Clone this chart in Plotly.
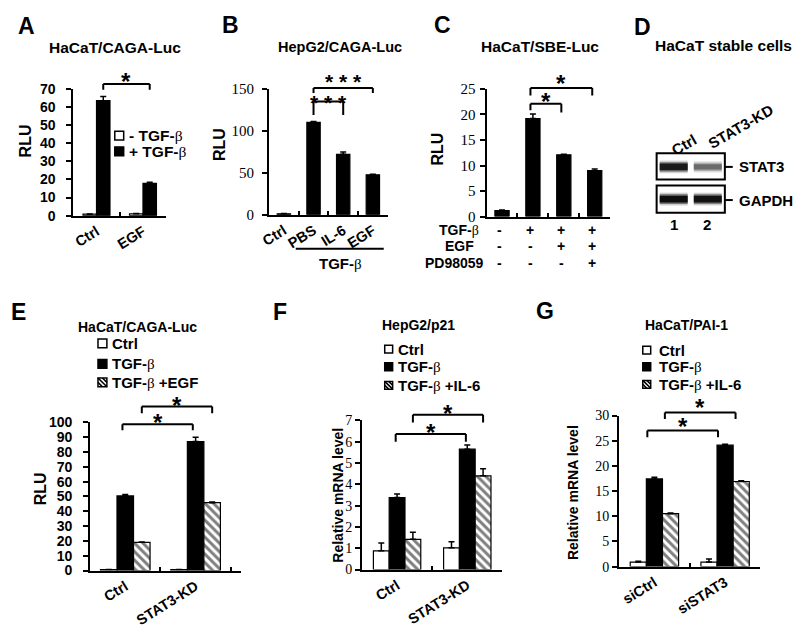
import plotly.graph_objects as go

W, H = 800, 637

# ---------------- data ----------------
a_categories = ["Ctrl", "EGF"]
a_legend = ["- TGF-β", "+ TGF-β"]
a_without_tgf = [0.8, 1.0]
a_with_tgf = [63.5, 17.8]
a_without_tgf_err = [0.1, 0.2]
a_with_tgf_err = [2.3, 0.6]

b_categories = ["Ctrl", "PBS", "IL-6", "EGF"]
b_values = [1.0, 110.0, 72.0, 47.5]
b_err = [0.3, 1.0, 2.8, 0.8]
b_group_label = "TGF-β"

c_row_labels = ["TGF-β", "EGF", "PD98059"]
c_tgf = ["-", "+", "+", "+"]
c_egf = ["-", "-", "+", "+"]
c_pd98059 = ["-", "-", "-", "+"]
c_values = [1.2, 19.2, 12.1, 9.0]
c_err = [0.1, 0.9, 0.1, 0.3]

d_title = "HaCaT stable cells"
d_lanes = ["Ctrl", "STAT3-KD"]
d_lane_numbers = ["1", "2"]
d_proteins = ["STAT3", "GAPDH"]
d_stat3_band = [0.9, 0.58]
d_gapdh_band = [0.95, 0.93]

e_categories = ["Ctrl", "STAT3-KD"]
e_legend = ["Ctrl", "TGF-β", "TGF-β +EGF"]
e_ctrl = [0.6, 0.6]
e_tgf = [50.3, 87.0]
e_tgf_egf = [19.0, 45.8]
e_ctrl_err = [0.1, 0.1]
e_tgf_err = [1.0, 3.0]
e_tgf_egf_err = [0.3, 0.5]

f_categories = ["Ctrl", "STAT3-KD"]
f_legend = ["Ctrl", "TGF-β", "TGF-β +IL-6"]
f_ctrl = [0.88, 1.02]
f_tgf = [3.38, 5.65]
f_tgf_il6 = [1.42, 4.40]
f_ctrl_err = [0.36, 0.28]
f_tgf_err = [0.17, 0.20]
f_tgf_il6_err = [0.33, 0.33]

g_categories = ["siCtrl", "siSTAT3"]
g_legend = ["Ctrl", "TGF-β", "TGF-β +IL-6"]
g_ctrl = [0.9, 0.9]
g_tgf = [17.4, 24.1]
g_tgf_il6 = [10.5, 16.9]
g_ctrl_err = [0.15, 0.6]
g_tgf_err = [0.35, 0.2]
g_tgf_il6_err = [0.15, 0.15]

titles = {"A": "HaCaT/CAGA-Luc", "B": "HepG2/CAGA-Luc", "C": "HaCaT/SBE-Luc",
          "E": "HaCaT/CAGA-Luc", "F": "HepG2/p21", "G": "HaCaT/PAI-1"}

# ---------------- helpers ----------------
def px(x):
    return x / W


def py(y):
    return 1 - y / H


SANS = "Liberation Sans"
SERIF = "Liberation Serif"
NB = "\u00a0"


def beta(s):
    return s.replace("β", '<span style="font-family:Liberation Serif;font-weight:normal">β</span>')


def bfont(size):
    return dict(family=SANS, size=size, color="black", weight="bold")


fig = go.Figure()
annotations = []
shapes = []


def ax_names(n):
    return ("x" if n == 1 else f"x{n}"), ("y" if n == 1 else f"y{n}")


def add_bar(n, cats, vals, errs, kind, offset, width):
    xa, ya = ax_names(n)
    marker = dict(color="black" if kind == "black" else "white",
                  line=dict(color="black", width=1.2))
    if kind == "hatch":
        marker["pattern"] = dict(shape="\\", fgcolor="black", bgcolor="white",
                                 size=6, solidity=0.5)
    fig.add_trace(go.Bar(
        x=cats, y=vals, xaxis=xa, yaxis=ya, marker=marker,
        offset=offset, width=width, showlegend=False, hoverinfo="skip",
        error_y=dict(type="data", array=errs, arrayminus=[0] * len(errs),
                     symmetric=False, color="black", thickness=1.5, width=3)))


def group_bars(n, cats, series, width):
    k = len(series)
    centers = []
    for i, (vals, errs, kind) in enumerate(series):
        off = -k * width / 2 + i * width
        add_bar(n, cats, vals, errs, kind, off, width)
        centers.append(off + width / 2)
    return centers


layout_axes = {}


def setup_axes(n, xbox, ybox, xrange, yrange, dtick, tickfont, standoff,
               show_xlabels=True):
    xa, ya = ax_names(n)
    xkey = "xaxis" if n == 1 else f"xaxis{n}"
    ykey = "yaxis" if n == 1 else f"yaxis{n}"
    layout_axes[xkey] = dict(
        domain=[px(xbox[0]), px(xbox[1])], anchor=ya, type="category",
        range=xrange, showline=True, linecolor="black", linewidth=2,
        ticks="inside", tickson="boundaries", ticklen=4, tickwidth=1.5,
        tickcolor="black", tickangle=-32, tickfont=bfont(14.5),
        showticklabels=show_xlabels, showgrid=False, zeroline=False,
        fixedrange=True)
    layout_axes[ykey] = dict(
        domain=[py(ybox[1]), py(ybox[0])], anchor=xa, range=yrange,
        dtick=dtick, tick0=0, showline=True, linecolor="black", linewidth=2,
        ticks="outside", ticklen=5, tickwidth=1.5, tickcolor="black",
        tickfont=tickfont, ticklabelstandoff=standoff, showgrid=False,
        zeroline=False, fixedrange=True)


def bracket(n, xa0, xa1, top, bot0, bot1, ymax, label, star_y, star_size, dx=0.0):
    xa, ya = ax_names(n)
    yref = ya + " domain"
    x0, x1 = xa0 + dx, xa1 + dx
    for (sx0, sy0, sx1, sy1) in [(x0, top, x1, top), (x0, top, x0, bot0), (x1, top, x1, bot1)]:
        shapes.append(dict(type="line", xref=xa, yref=yref, x0=sx0, x1=sx1,
                           y0=sy0 / ymax, y1=sy1 / ymax,
                           line=dict(color="black", width=2)))
    annotations.append(dict(x=(x0 + x1) / 2, y=star_y / ymax, xref=xa, yref=yref,
                            text=label, showarrow=False, font=bfont(star_size),
                            xanchor="center", yanchor="middle",
                            yshift=-0.23 * star_size))


def text(x, y, s, size=15, anchor="center", angle=0, font=None):
    annotations.append(dict(x=px(x), y=py(y), xref="paper", yref="paper",
                            text=beta(s), showarrow=False,
                            font=font or bfont(size), xanchor=anchor,
                            yanchor="middle", textangle=angle))


def legend(entries, x0, ycs, tx, size, fontsize):
    for (label, kind), yc in zip(entries, ycs):
        s = size
        shapes.append(dict(type="rect", xref="paper", yref="paper",
                           x0=px(x0), x1=px(x0 + s), y0=py(yc + s / 2), y1=py(yc - s / 2),
                           fillcolor="black" if kind == "black" else "white",
                           line=dict(color="black", width=1.5)))
        if kind == "hatch":
            path = (f"M{px(x0)},{py(yc - s / 2)} L{px(x0 + s)},{py(yc + s / 2)} "
                    f"M{px(x0 + s / 2)},{py(yc - s / 2)} L{px(x0 + s)},{py(yc)} "
                    f"M{px(x0)},{py(yc)} L{px(x0 + s / 2)},{py(yc + s / 2)}")
            shapes.append(dict(type="path", xref="paper", yref="paper", path=path,
                               line=dict(color="black", width=1.6)))
        text(tx, yc, label, size=fontsize, anchor="left")


# ---------------- Panel A ----------------
setup_axes(1, (65, 159), (83, 213), [-0.5, 1.5], [0, 70], 10, bfont(14), 8)
wa = 0.29
ca = group_bars(1, a_categories, [(a_without_tgf, a_without_tgf_err, "white"),
                                  (a_with_tgf, a_with_tgf_err, "black")], wa)
bracket(1, 0 + ca[1], 1 + ca[1], 72.7, 69.5, 69.5, 70, "*", 77.0, 24)
legend(list(zip(a_legend, ["white", "black"])), 107, [131, 147], 119, 9, 15.5)

# ---------------- Panel B ----------------
setup_axes(2, (263, 383), (83, 212), [-0.5, 3.5], [0, 150], 50,
           dict(family=SERIF, size=15, color="black"), 5)
add_bar(2, b_categories, b_values, b_err, "black", -0.225, 0.45)
stars3 = NB.join(["*", "*", "*"])
bracket(2, 1, 2, 135, 119, 119, 150, stars3, 139.5, 21)
bracket(2, 1, 3, 151, 145, 145, 150, stars3, 165.0, 21)
shapes.append(dict(type="line", xref="paper", yref="paper", x0=px(290), x1=px(379),
                   y0=py(247), y1=py(247), line=dict(color="black", width=2)))
text(335, 262, b_group_label, 15)

# ---------------- Panel C ----------------
c_categories = ["/".join(t) for t in zip(c_tgf, c_egf, c_pd98059)]
setup_axes(3, (483, 608), (83, 214), [-0.5, 3.5], [0, 25], 5,
           dict(family=SERIF, size=15, color="black"), 1, show_xlabels=False)
add_bar(3, c_categories, c_values, c_err, "black", -0.23, 0.46)
bracket(3, 1, 2, 22.1, 20.8, 20.4, 25, "*", 23.7, 24, dx=-0.08)
bracket(3, 1, 3, 25.2, 23.7, 23.7, 25, "*", 27.1, 24, dx=-0.08)
row_y = [228, 244, 262]
row_x = [477, 472, 482]
for label, signs, ry, rx in zip(c_row_labels, [c_tgf, c_egf, c_pd98059], row_y, row_x):
    text(rx, ry, label, 14, anchor="right")
    for i, s in enumerate(signs):
        annotations.append(dict(x=i - 0.08, y=py(ry), xref="x3", yref="paper",
                                text=s, showarrow=False, font=bfont(14),
                                xanchor="center", yanchor="middle"))

# ---------------- Panel D (western blot) ----------------
layout_axes["xaxis7"] = dict(domain=[px(655), px(724)], anchor="y7", range=[0.5, 2.5],
                             visible=False, fixedrange=True)
layout_axes["yaxis7"] = dict(domain=[py(210), py(149)], anchor="x7", range=[0, 61],
                             visible=False, fixedrange=True)
row_pos = {"STAT3": 47, "GAPDH": 14}
for prot, bands in [("STAT3", d_stat3_band), ("GAPDH", d_gapdh_band)]:
    for lane, inten in enumerate(bands, start=1):
        g = int(round(255 * (1 - inten)))
        col = f"rgb({g},{g},{g})"
        wd = 3 + 4 * inten
        for extra, op in [(6, 0.2), (3, 0.45), (0, 1.0)]:
            fig.add_trace(go.Scatter(x=[lane - 0.41, lane + 0.41], y=[row_pos[prot]] * 2,
                                     xaxis="x7", yaxis="y7", mode="lines",
                                     line=dict(color=col, width=wd + extra), opacity=op,
                                     showlegend=False, hoverinfo="skip"))
for (y0, y1) in [(149, 176), (182, 210)]:
    shapes.append(dict(type="rect", xref="paper", yref="paper", x0=px(655), x1=px(724),
                       y0=py(y1), y1=py(y0), line=dict(color="black", width=2)))
for prot, yc in zip(d_proteins, [163, 197]):
    shapes.append(dict(type="line", xref="paper", yref="paper", x0=px(724), x1=px(732),
                       y0=py(yc), y1=py(yc), line=dict(color="black", width=2)))
    text(736, yc, prot, 15, anchor="left")
for lane, num, xc in zip(d_lanes, d_lane_numbers, [673, 706]):
    text(xc, 222, num, 15)
text(683, 140, d_lanes[0], 15, angle=-30)
text(740, 122, d_lanes[1], 15, angle=-30)

# ---------------- Panel E ----------------
setup_axes(4, (82, 235), (425, 577), [-0.5, 1.65], [0, 100], 10, bfont(14), 8)
we = 0.235
ce = group_bars(4, e_categories, [(e_ctrl, e_ctrl_err, "white"),
                                  (e_tgf, e_tgf_err, "black"),
                                  (e_tgf_egf, e_tgf_egf_err, "hatch")], we)
bracket(4, 0 + ce[1], 1 + ce[1], 98.7, 94.7, 94.7, 100, "*", 103.9, 24, dx=-0.04)
bracket(4, 0 + ce[2], 1 + ce[2], 110.6, 106.2, 106.2, 100, "*", 115.4, 24)
legend(list(zip(e_legend, ["white", "black", "hatch"])), 90, [344, 365, 384], 102, 9, 15)

# ---------------- Panel F ----------------
setup_axes(5, (357, 499), (423, 576), [-0.5, 1.5], [0, 7], 1,
           dict(family=SERIF, size=14, color="black"), 0)
wf = 0.225
cf = group_bars(5, f_categories, [(f_ctrl, f_ctrl_err, "white"),
                                  (f_tgf, f_tgf_err, "black"),
                                  (f_tgf_il6, f_tgf_il6_err, "hatch")], wf)
bracket(5, 0 + cf[1], 1 + cf[1], 6.36, 6.0, 6.0, 7, "*", 6.68, 24, dx=-0.02)
bracket(5, 0 + cf[2], 1 + cf[2], 7.26, 6.9, 6.9, 7, "*", 7.59, 24)
legend(list(zip(f_legend, ["white", "black", "hatch"])), 380, [350, 368, 387], 391, 8, 15)

# ---------------- Panel G ----------------
setup_axes(6, (617, 760), (418, 573), [-0.5, 1.5], [0, 30], 5,
           dict(family=SERIF, size=14, color="black"), 0)
wg = 0.228
cg = group_bars(6, g_categories, [(g_ctrl, g_ctrl_err, "white"),
                                  (g_tgf, g_tgf_err, "black"),
                                  (g_tgf_il6, g_tgf_il6_err, "hatch")], wg)
bracket(6, 0 + cg[1], 1 + cg[1], 27.0, 25.7, 25.7, 30, "*", 29.0, 24, dx=-0.1)
bracket(6, 0 + cg[2], 1 + cg[2], 30.6, 29.3, 29.3, 30, "*", 32.7, 24, dx=-0.08)
legend(list(zip(g_legend, ["white", "black", "hatch"])), 641, [351, 368, 386], 655, 8, 15)

# ---------------- titles, letters, axis titles ----------------
for key, (x, y, sz) in {"A": (107, 41, 15.5), "B": (335, 40, 14.5), "C": (537, 39, 15.5),
                        "E": (130, 327, 14), "F": (414, 325, 14), "G": (685, 325, 14)}.items():
    text(x, y, titles[key], sz)
text(723, 38, d_title, 15.5)

for letter, (x, y) in {"A": (18, 18), "B": (224, 17), "C": (438, 17), "D": (641, 19),
                       "E": (10, 312), "F": (274, 312), "G": (542, 311)}.items():
    text(x, y, letter, 23)

for s, x, y, size in [("RLU", 17, 136, 16), ("RLU", 213, 140, 16), ("RLU", 433, 145, 16),
                      ("RLU", 32, 493, 16), ("Relative mRNA level", 333, 500, 14),
                      ("Relative mRNA level", 570, 497, 14)]:
    text(x, y, s, size, angle=-90)

fig.update_layout(width=W, height=H, margin=dict(l=0, r=0, t=0, b=0),
                  paper_bgcolor="white", plot_bgcolor="white", showlegend=False,
                  barmode="overlay", annotations=annotations, shapes=shapes,
                  font=dict(family=SANS, color="black"), **layout_axes)

fig.write_html("out.html", config={"displayModeBar": False},
               post_script="document.body.style.margin='0';document.body.style.overflow='hidden';")
